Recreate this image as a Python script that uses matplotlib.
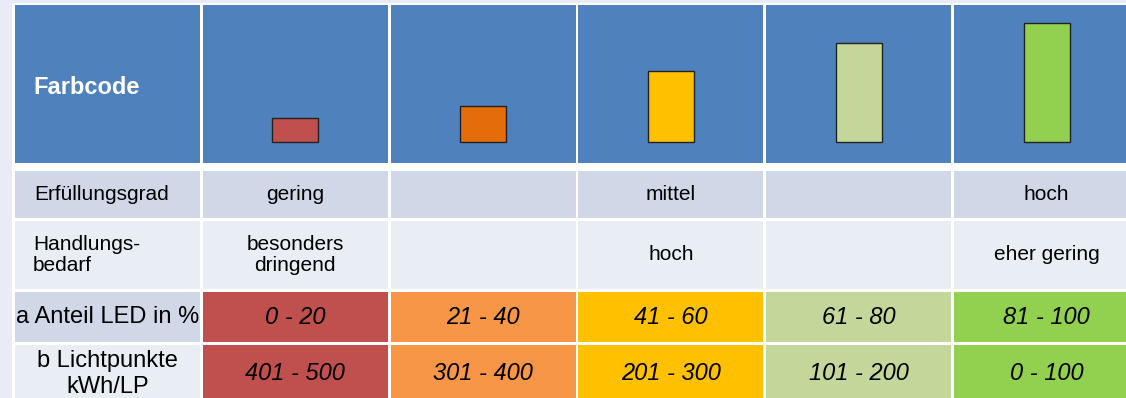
import matplotlib
matplotlib.use("Agg")
import matplotlib.pyplot as plt
from matplotlib.patches import Rectangle

plt.rcParams['font.family'] = ['Liberation Sans', 'DejaVu Sans']

# ---- data ----
row_labels = ["Farbcode", "Erfüllungsgrad", "Handlungs-\nbedarf", "a Anteil LED in %", "b Lichtpunkte\nkWh/LP"]
bar_values = [20, 30, 60, 83, 100]
bar_colors = ["#c0504d", "#e46c0a", "#ffc000", "#c4d79b", "#92d050"]
cell_colors = ["#c0504d", "#f79646", "#ffc000", "#c4d79b", "#92d050"]
erfuellung = ["gering", "", "mittel", "", "hoch"]
handlung = ["besonders\ndringend", "", "hoch", "", "eher gering"]
anteil_led = ["0 - 20", "21 - 40", "41 - 60", "61 - 80", "81 - 100"]
lichtpunkte = ["401 - 500", "301 - 400", "201 - 300", "101 - 200", "0 - 100"]

W, H = 1126, 398
fig = plt.figure(figsize=(W / 100, H / 100), dpi=100)
fig.patch.set_facecolor("#e9ecf6")

ax = fig.add_axes([0, 0, 1, 1])
ax.set_xlim(0, W)
ax.set_ylim(H, 0)
ax.axis("off")

# layout (pixels)
x0 = 15
pitch = 187.8
cw = 185
rows = [(5, 163), (171, 218), (221, 289), (292, 342), (345, 405)]
header_blue = "#4f81bd"
light1 = "#d0d8e8"
light2 = "#e9edf4"

# white table frame
ax.add_patch(Rectangle((12, 3), W, H, facecolor="white", edgecolor="none", zorder=0))

label_bg = [header_blue, light1, light2, light1, light2]
row_bg = [header_blue, light1, light2, None, None]

for r, (y0, y1) in enumerate(rows):
    for c in range(6):
        xl = x0 + c * pitch
        if c == 0:
            fc = label_bg[r]
        else:
            fc = row_bg[r] if row_bg[r] is not None else cell_colors[c - 1]
        ax.add_patch(Rectangle((xl, y0), cw, y1 - y0, facecolor=fc, edgecolor="none", zorder=1))

# label column text
ax.text(33, (rows[0][0] + rows[0][1]) / 2 + 3, row_labels[0], color="white", fontsize=17,
        fontweight="bold", ha="left", va="center", zorder=3)
ax.text(34, (rows[1][0] + rows[1][1]) / 2, row_labels[1], color="black", fontsize=15,
        ha="left", va="center", zorder=3)
ax.text(33, (rows[2][0] + rows[2][1]) / 2, row_labels[2], color="black", fontsize=15,
        ha="left", va="center", zorder=3, linespacing=1.15)
ax.text(x0 + cw / 2, (rows[3][0] + rows[3][1]) / 2, row_labels[3], color="black", fontsize=17,
        ha="center", va="center", zorder=3)
ax.text(x0 + cw / 2, (rows[4][0] + rows[4][1]) / 2 - 1, row_labels[4], color="black", fontsize=17,
        ha="center", va="center", zorder=3, linespacing=1.2)

for i in range(5):
    xc = x0 + (i + 1) * pitch + cw / 2
    ax.text(xc, (rows[1][0] + rows[1][1]) / 2, erfuellung[i], fontsize=15,
            ha="center", va="center", zorder=3)
    ax.text(xc, (rows[2][0] + rows[2][1]) / 2, handlung[i], fontsize=15,
            ha="center", va="center", zorder=3, linespacing=1.15)
    ax.text(xc, (rows[3][0] + rows[3][1]) / 2, anteil_led[i], fontsize=17, style="italic",
            ha="center", va="center", zorder=3)
    ax.text(xc, (rows[4][0] + rows[4][1]) / 2 - 1, lichtpunkte[i], fontsize=17, style="italic",
            ha="center", va="center", zorder=3)

# bars in header row
scale = 1.19  # px per unit
baseline_px = 142
left_px = x0 + pitch - (pitch - cw) / 2
bax = fig.add_axes([left_px / W, (H - rows[0][1]) / H, 5 * pitch / W, (rows[0][1] - rows[0][0]) / H])
bax.set_xlim(-0.5, 4.5)
bax.set_ylim(-(rows[0][1] - baseline_px) / scale, (baseline_px - rows[0][0]) / scale)
bax.patch.set_alpha(0)
bax.axis("off")
bax.bar(range(5), bar_values, width=46 / pitch, color=bar_colors, edgecolor="#222222", linewidth=1.0)

fig.savefig("out.png", dpi=100, facecolor=fig.get_facecolor())
